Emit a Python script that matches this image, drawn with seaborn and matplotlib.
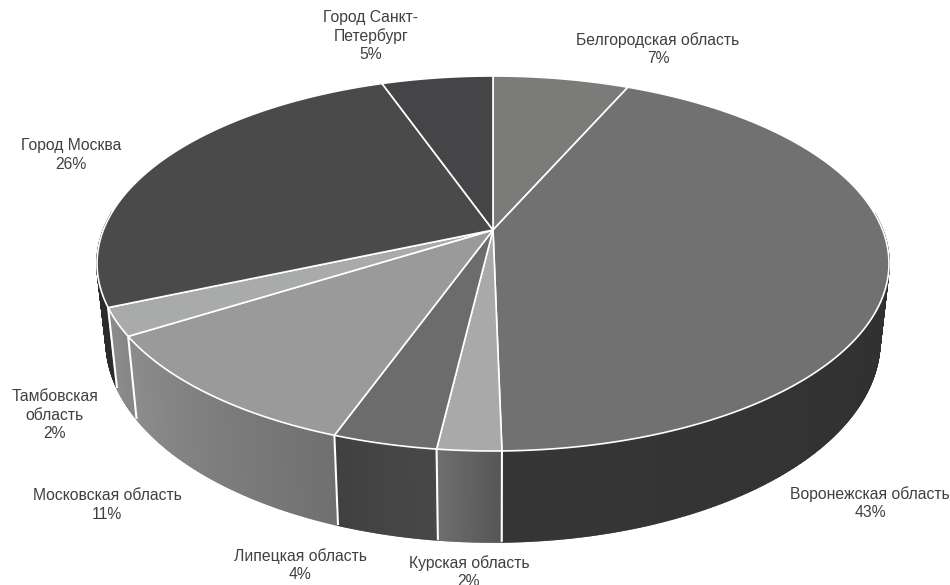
import numpy as np
import matplotlib
matplotlib.use('Agg')
import matplotlib.pyplot as plt
from matplotlib.colors import to_rgb
import seaborn as sns

# Values
regions = ['Белгородская область', 'Воронежская область', 'Курская область',
           'Липецкая область', 'Московская область', 'Тамбовская\nобласть',
           'Город Москва', 'Город Санкт-\nПетербург']
shares = [6.6, 43.1, 2.2, 3.6, 10.6, 2.4, 26.1, 5.4]

top_colors = ['#7b7b79', '#717171', '#a9a9a9', '#6c6c6c', '#9a9a9a', '#a9abaa', '#4a4a4a', '#454547']
wall_start = ['#555555', '#292a29', '#565656', '#484848', '#6f706f', '#858685', '#2b2b2b', '#333333']
wall_end = ['#555555', '#363636', '#6e6f6e', '#3f4140', '#8c8d8c', '#8c8d8c', '#333333', '#333333']

label_pos = [(658, 49), (870, 503), (469, 572), (300, 565),
             (107, 505), (55, 415), (71, 155), (371, 36)]

sns.set_theme(style='white')
plt.rcParams['font.family'] = ['Liberation Sans', 'DejaVu Sans']

# Perspective of the disc, in pixels
cx, cy = 493, 230
R, H, k = 389.6, 181.5, 0.1787
depth, shrink = 74.7, 0.977


def top_point(theta):
    u, v = np.sin(theta), np.cos(theta)
    w = 1 + k * v
    return cx + R * u / w, cy - H * v / w


def bottom_point(theta):
    x, y = top_point(theta)
    w = 1 + k * np.cos(theta)
    return cx + shrink * (x - cx), y + depth / w


fig = plt.figure(figsize=(9.5, 5.85), dpi=100)
ax = fig.add_axes([0, 0, 1, 1])
ax.set_xlim(0, 950)
ax.set_ylim(585, 0)
ax.axis('off')

edges = 2 * np.pi * np.concatenate([[0], np.cumsum(shares)]) / np.sum(shares)

# Side walls, back to front, as thin strips for the gradient
strips = []
for i in range(len(shares)):
    c0, c1 = np.array(to_rgb(wall_start[i])), np.array(to_rgb(wall_end[i]))
    n = max(int((edges[i + 1] - edges[i]) / 0.005), 2)
    ts = np.linspace(edges[i], edges[i + 1], n + 1)
    for j in range(n):
        color = c0 + (c1 - c0) * (j + 0.5) / n
        # the back of the wall is hidden by the top face
        if np.cos(ts[j]) < 0.1:
            strips.append((np.cos(ts[j]), ts[j], ts[j + 1], color))
strips.sort(key=lambda s: -s[0])
for _, t0, t1, color in strips:
    x0, y0 = top_point(t0)
    x1, y1 = top_point(t1)
    x2, y2 = bottom_point(t1)
    x3, y3 = bottom_point(t0)
    ax.fill([x0, x1, x2, x3], [y0, y1, y2, y3], color=color, lw=1.2)

# White seams on the visible wall
for t in edges[:-1]:
    if np.cos(t) < -0.2:
        x0, y0 = top_point(t)
        x1, y1 = bottom_point(t)
        ax.plot([x0, x1], [y0, y1], color='white', lw=1.5, solid_capstyle='butt')

# Top face
for i in range(len(shares)):
    ts = np.linspace(edges[i], edges[i + 1], 200)
    xs, ys = top_point(ts)
    ax.fill(np.r_[cx, xs], np.r_[cy, ys], facecolor=top_colors[i], edgecolor='white',
            lw=1.2, joinstyle='round')

for name, share, (x, y) in zip(regions, shares, label_pos):
    ax.text(x, y, f'{name}\n{share:.0f}%', ha='center', va='center', fontsize=11.3,
            color='#404040', linespacing=1.28)

fig.savefig('out.png', dpi=100)
